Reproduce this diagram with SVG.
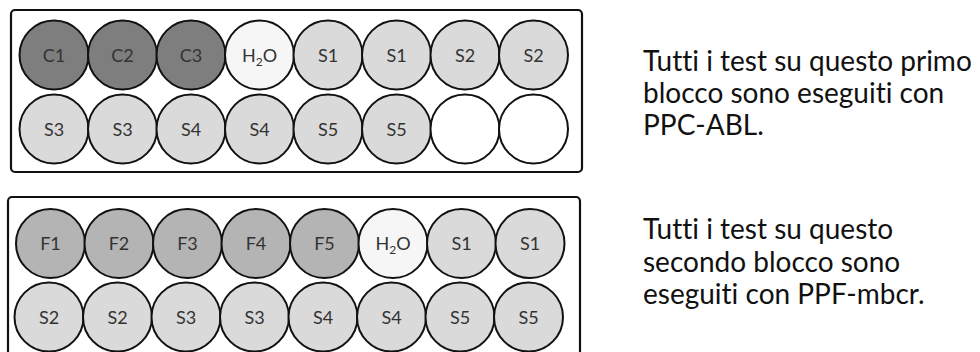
<svg xmlns="http://www.w3.org/2000/svg" width="980" height="352" viewBox="0 0 980 352">
  <style>
    .plate { fill: #ffffff; stroke: #111111; stroke-width: 2.2; }
    .well { stroke: #111111; stroke-width: 2; }
    .ctrl { fill: #7e7e7e; }
    .std { fill: #b4b4b4; }
    .smp { fill: #dadada; }
    .water { fill: #f6f6f6; }
    .empty { fill: #ffffff; }
    .lbl { font-family: Lato, "Liberation Sans", sans-serif; font-size: 18px; fill: #333333; text-anchor: middle; }
    .note { font-family: Lato, "Liberation Sans", sans-serif; font-size: 28px; fill: #111111; font-variant-ligatures: none; }
  </style>

  <!-- first block: PPC-ABL -->
  <g id="block1">
    <rect class="plate" x="11" y="10" width="571" height="162" rx="4"/>
    <g id="b1-r1">
      <g id="b1-a1"><circle class="well ctrl" cx="54" cy="55" r="34.5"/><text class="lbl" x="54" y="61.5">C1</text></g>
      <g id="b1-a2"><circle class="well ctrl" cx="122.5" cy="55" r="34.5"/><text class="lbl" x="122.5" y="61.5">C2</text></g>
      <g id="b1-a3"><circle class="well ctrl" cx="191" cy="55" r="34.5"/><text class="lbl" x="191" y="61.5">C3</text></g>
      <g id="b1-a4"><circle class="well water" cx="259.5" cy="55" r="34.5"/><text class="lbl" x="259.5" y="61.5">H<tspan font-size="12" dy="4">2</tspan><tspan dy="-4">O</tspan></text></g>
      <g id="b1-a5"><circle class="well smp" cx="328" cy="55" r="34.5"/><text class="lbl" x="328" y="61.5">S1</text></g>
      <g id="b1-a6"><circle class="well smp" cx="396.5" cy="55" r="34.5"/><text class="lbl" x="396.5" y="61.5">S1</text></g>
      <g id="b1-a7"><circle class="well smp" cx="465" cy="55" r="34.5"/><text class="lbl" x="465" y="61.5">S2</text></g>
      <g id="b1-a8"><circle class="well smp" cx="533.5" cy="55" r="34.5"/><text class="lbl" x="533.5" y="61.5">S2</text></g>
    </g>
    <g id="b1-r2">
      <g id="b1-b1"><circle class="well smp" cx="54" cy="129" r="34.5"/><text class="lbl" x="54" y="135.5">S3</text></g>
      <g id="b1-b2"><circle class="well smp" cx="122.5" cy="129" r="34.5"/><text class="lbl" x="122.5" y="135.5">S3</text></g>
      <g id="b1-b3"><circle class="well smp" cx="191" cy="129" r="34.5"/><text class="lbl" x="191" y="135.5">S4</text></g>
      <g id="b1-b4"><circle class="well smp" cx="259.5" cy="129" r="34.5"/><text class="lbl" x="259.5" y="135.5">S4</text></g>
      <g id="b1-b5"><circle class="well smp" cx="328" cy="129" r="34.5"/><text class="lbl" x="328" y="135.5">S5</text></g>
      <g id="b1-b6"><circle class="well smp" cx="396.5" cy="129" r="34.5"/><text class="lbl" x="396.5" y="135.5">S5</text></g>
      <g id="b1-b7"><circle class="well empty" cx="465" cy="129" r="34.5"/></g>
      <g id="b1-b8"><circle class="well empty" cx="533.5" cy="129" r="34.5"/></g>
    </g>
  </g>

  <!-- second block: PPF-mbcr -->
  <g id="block2">
    <rect class="plate" x="8" y="197" width="572" height="170" rx="4"/>
    <g id="b2-r1">
      <g id="b2-a1"><circle class="well std" cx="50.5" cy="243.5" r="34.5"/><text class="lbl" x="50.5" y="250">F1</text></g>
      <g id="b2-a2"><circle class="well std" cx="119" cy="243.5" r="34.5"/><text class="lbl" x="119" y="250">F2</text></g>
      <g id="b2-a3"><circle class="well std" cx="187.5" cy="243.5" r="34.5"/><text class="lbl" x="187.5" y="250">F3</text></g>
      <g id="b2-a4"><circle class="well std" cx="256" cy="243.5" r="34.5"/><text class="lbl" x="256" y="250">F4</text></g>
      <g id="b2-a5"><circle class="well std" cx="324.5" cy="243.5" r="34.5"/><text class="lbl" x="324.5" y="250">F5</text></g>
      <g id="b2-a6"><circle class="well water" cx="393" cy="243.5" r="34.5"/><text class="lbl" x="393" y="250">H<tspan font-size="12" dy="4">2</tspan><tspan dy="-4">O</tspan></text></g>
      <g id="b2-a7"><circle class="well smp" cx="461.5" cy="243.5" r="34.5"/><text class="lbl" x="461.5" y="250">S1</text></g>
      <g id="b2-a8"><circle class="well smp" cx="530" cy="243.5" r="34.5"/><text class="lbl" x="530" y="250">S1</text></g>
    </g>
    <g id="b2-r2">
      <g id="b2-b1"><circle class="well smp" cx="49" cy="317" r="34.5"/><text class="lbl" x="49" y="323.5">S2</text></g>
      <g id="b2-b2"><circle class="well smp" cx="117.5" cy="317" r="34.5"/><text class="lbl" x="117.5" y="323.5">S2</text></g>
      <g id="b2-b3"><circle class="well smp" cx="186" cy="317" r="34.5"/><text class="lbl" x="186" y="323.5">S3</text></g>
      <g id="b2-b4"><circle class="well smp" cx="254.5" cy="317" r="34.5"/><text class="lbl" x="254.5" y="323.5">S3</text></g>
      <g id="b2-b5"><circle class="well smp" cx="323" cy="317" r="34.5"/><text class="lbl" x="323" y="323.5">S4</text></g>
      <g id="b2-b6"><circle class="well smp" cx="391.5" cy="317" r="34.5"/><text class="lbl" x="391.5" y="323.5">S4</text></g>
      <g id="b2-b7"><circle class="well smp" cx="460" cy="317" r="34.5"/><text class="lbl" x="460" y="323.5">S5</text></g>
      <g id="b2-b8"><circle class="well smp" cx="528.5" cy="317" r="34.5"/><text class="lbl" x="528.5" y="323.5">S5</text></g>
    </g>
  </g>

  <!-- notes beside each block -->
  <g id="note1">
    <text class="note" x="643" y="71">Tutti i test su questo primo</text>
    <text class="note" x="643" y="103">blocco sono eseguiti con</text>
    <text class="note" x="643" y="135">PPC-ABL.</text>
  </g>
  <g id="note2">
    <text class="note" x="643" y="239">Tutti i test su questo</text>
    <text class="note" x="643" y="272">secondo blocco sono</text>
    <text class="note" x="643" y="304">eseguiti con PPF-mbcr.</text>
  </g>
</svg>
